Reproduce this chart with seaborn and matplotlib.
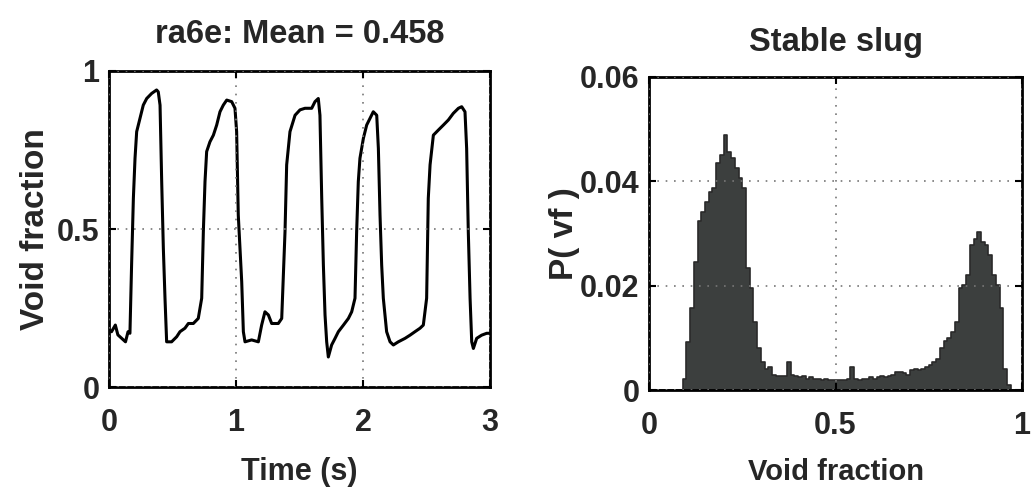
import numpy as np
import pandas as pd
import matplotlib
matplotlib.use("Agg")
import matplotlib.pyplot as plt
import seaborn as sns

# Void-fraction time trace (s, -)
time_s = [0.0, 0.02, 0.05, 0.07, 0.10, 0.13, 0.15, 0.165, 0.178, 0.192, 0.205, 0.218,
          0.244, 0.270, 0.297, 0.336, 0.375, 0.388, 0.402, 0.415, 0.428, 0.441, 0.454,
          0.493, 0.533, 0.559, 0.598, 0.625, 0.664, 0.703, 0.730, 0.743, 0.756, 0.769,
          0.795, 0.822, 0.848, 0.874, 0.900, 0.927, 0.966, 0.992, 1.005, 1.018, 1.045,
          1.058, 1.071, 1.123, 1.176, 1.202, 1.228, 1.255, 1.281, 1.333, 1.360, 1.386,
          1.399, 1.425, 1.465, 1.504, 1.543, 1.596, 1.622, 1.648, 1.661, 1.675, 1.688,
          1.701, 1.714, 1.727, 1.753, 1.780, 1.806, 1.846, 1.885, 1.911, 1.937, 1.950,
          1.963, 1.976, 2.003, 2.029, 2.055, 2.081, 2.108, 2.121, 2.134, 2.147, 2.160,
          2.186, 2.213, 2.239, 2.278, 2.331, 2.370, 2.409, 2.449, 2.475, 2.501, 2.514,
          2.528, 2.554, 2.593, 2.633, 2.672, 2.711, 2.751, 2.777, 2.803, 2.816, 2.829,
          2.843, 2.856, 2.869, 2.895, 2.934, 2.974, 3.0]
void_frac = [0.180, 0.175, 0.196, 0.165, 0.154, 0.143, 0.175, 0.170, 0.386, 0.597, 0.724, 0.808,
             0.850, 0.892, 0.913, 0.929, 0.940, 0.934, 0.892, 0.650, 0.439, 0.281, 0.143,
             0.143, 0.159, 0.175, 0.186, 0.201, 0.201, 0.217, 0.281, 0.492, 0.650, 0.745,
             0.776, 0.797, 0.829, 0.871, 0.892, 0.908, 0.903, 0.882, 0.808, 0.544, 0.333,
             0.175, 0.143, 0.149, 0.143, 0.196, 0.238, 0.228, 0.201, 0.201, 0.217, 0.492,
             0.703, 0.808, 0.860, 0.877, 0.882, 0.882, 0.903, 0.913, 0.860, 0.597, 0.386,
             0.228, 0.143, 0.095, 0.133, 0.154, 0.175, 0.196, 0.217, 0.238, 0.281, 0.492,
             0.650, 0.724, 0.787, 0.829, 0.850, 0.871, 0.860, 0.755, 0.544, 0.386, 0.281,
             0.175, 0.143, 0.133, 0.143, 0.154, 0.164, 0.175, 0.186, 0.196, 0.281, 0.597,
             0.703, 0.797, 0.813, 0.829, 0.845, 0.866, 0.882, 0.887, 0.871, 0.755, 0.492,
             0.281, 0.143, 0.122, 0.154, 0.164, 0.170, 0.170]

# Probability of each void-fraction bin (100 bins on [0, 1])
bin_edges = [round(i / 100, 2) for i in range(101)]
prob = [0, 0, 0, 0, 0, 0, 0, 0, 0, 0.0022,
        0.0092, 0.0157, 0.0246, 0.0323, 0.0342, 0.0360, 0.0380, 0.0387, 0.0435, 0.0450,
        0.0489, 0.0457, 0.0444, 0.0425, 0.0406, 0.0387, 0.0233, 0.0195, 0.0131, 0.0080,
        0.0054, 0.0041, 0.0045, 0.0029, 0.0026, 0.0026, 0.0026, 0.0054, 0.0029, 0.0026,
        0.0024, 0.0026, 0.0022, 0.0024, 0.0022, 0.0022, 0.0020, 0.0022, 0.0020, 0.0019,
        0.0020, 0.0019, 0.0020, 0.0022, 0.0045, 0.0022, 0.0020, 0.0022, 0.0022, 0.0024,
        0.0022, 0.0024, 0.0026, 0.0024, 0.0026, 0.0029, 0.0035, 0.0035, 0.0032, 0.0029,
        0.0038, 0.0041, 0.0038, 0.0041, 0.0045, 0.0048, 0.0054, 0.0060, 0.0080, 0.0093,
        0.0099, 0.0112, 0.0131, 0.0195, 0.0201, 0.0220, 0.0278, 0.0290, 0.0303, 0.0284,
        0.0278, 0.0259, 0.0220, 0.0201, 0.0157, 0.0041, 0.0010, 0, 0, 0]

left_title = "ra6e: Mean = 0.458"
right_title = "Stable slug"

sns.set_theme(style="ticks")
plt.rcParams["font.family"] = ["Liberation Sans", "DejaVu Sans"]
plt.rcParams["font.weight"] = "bold"
plt.rcParams["axes.labelweight"] = "bold"
plt.rcParams["axes.titleweight"] = "bold"

TITLE_FS = 23.5
YLAB_FS = 24
XLAB_FS = 21
TICK_FS = 22

fig = plt.figure(figsize=(10.34, 4.91), dpi=100)
ax1 = fig.add_axes([0.1054, 0.2118, 0.3685, 0.6436])
ax2 = fig.add_axes([0.6277, 0.2057, 0.3607, 0.6375])

trace = pd.DataFrame({"t": time_s, "vf": void_frac})
sns.lineplot(data=trace, x="t", y="vf", ax=ax1, color="black", linewidth=2.2,
             estimator=None, sort=False)
ax1.set_xlim(0, 3)
ax1.set_ylim(0, 1)
ax1.set_xticks([0, 1, 2, 3])
ax1.set_xticklabels(["0", "1", "2", "3"])
ax1.set_yticks([0, 0.5, 1])
ax1.set_yticklabels(["0", "0.5", "1"])
ax1.set_xlabel("Time (s)", fontsize=XLAB_FS + 1, labelpad=14)
ax1.set_ylabel("Void fraction", fontsize=YLAB_FS, labelpad=4)
ax1.set_title(left_title, fontsize=TITLE_FS, pad=20)

centers = [(bin_edges[i] + bin_edges[i + 1]) / 2 for i in range(len(prob))]
hist = pd.DataFrame({"vf": centers, "p": prob})
sns.histplot(data=hist, x="vf", weights="p", bins=bin_edges, ax=ax2,
             element="step", fill=True, color="#3c3f3e", alpha=1.0, linewidth=1.2,
             edgecolor="#2a2a2a")
ax2.set_xlim(0, 1)
ax2.set_ylim(0, 0.06)
ax2.set_xticks([0, 0.5, 1])
ax2.set_xticklabels(["0", "0.5", "1"])
ax2.set_yticks([0, 0.02, 0.04, 0.06])
ax2.set_yticklabels(["0", "0.02", "0.04", "0.06"])
ax2.set_xlabel("Void fraction", fontsize=XLAB_FS, labelpad=12)
ax2.set_ylabel("P( vf )", fontsize=YLAB_FS, labelpad=0)
ax2.set_title(right_title, fontsize=TITLE_FS, pad=19)

for ax in (ax1, ax2):
    ax.grid(True, linestyle=(0, (1, 4)), color="#777777", linewidth=1.2)
    ax.set_axisbelow(False)
    for side in ("top", "right", "bottom", "left"):
        ax.spines[side].set_visible(True)
        ax.spines[side].set_linewidth(2.0)
        ax.spines[side].set_color("black")
    ax.tick_params(direction="in", length=5, width=1.5, labelsize=TICK_FS,
                   top=True, right=True, color="black")
    ax.tick_params(axis="x", pad=15)
    ax.tick_params(axis="y", pad=7)
    for lbl in ax.get_xticklabels() + ax.get_yticklabels():
        lbl.set_fontweight("bold")

fig.savefig("out.png", dpi=100, facecolor="white")
